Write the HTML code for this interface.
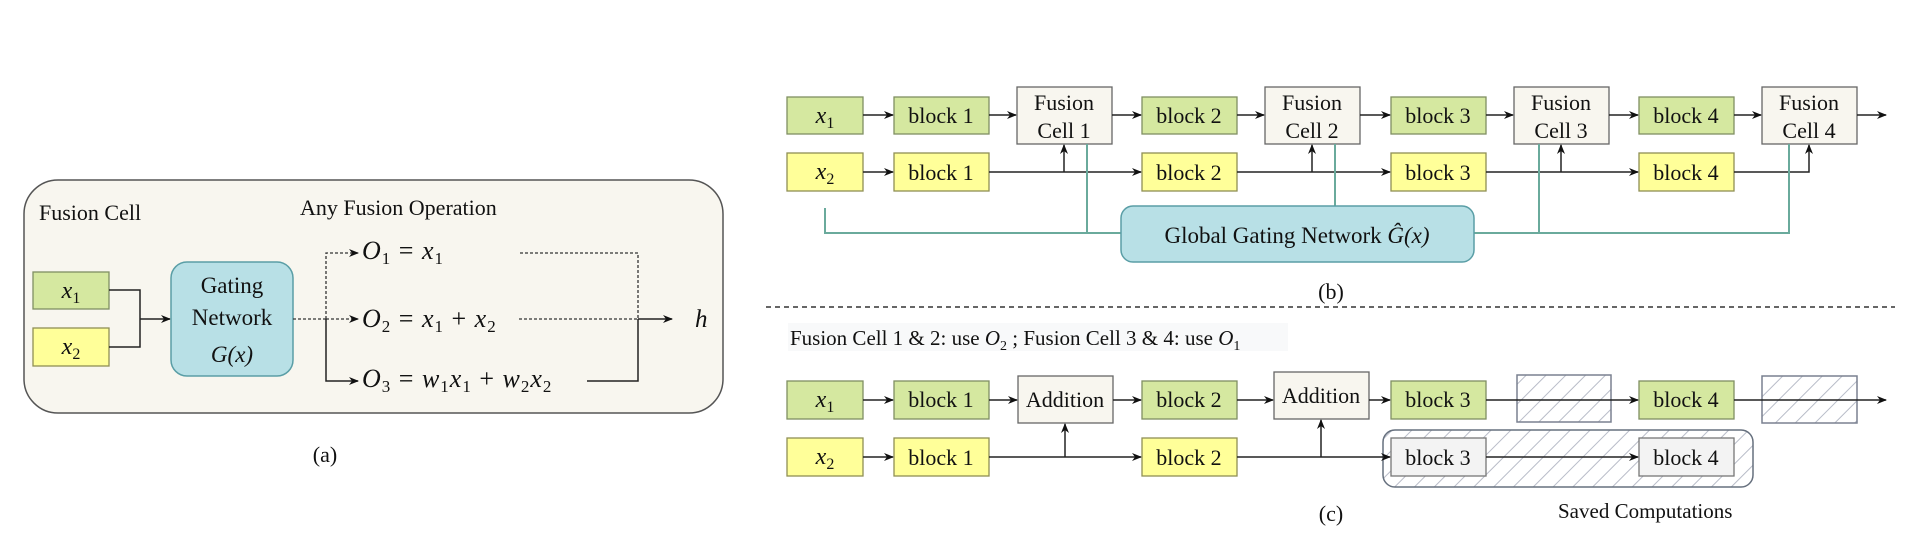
<!DOCTYPE html>
<html><head><meta charset="utf-8"><style>
html,body{margin:0;padding:0;background:#fff;}
svg{display:block;font-family:"Liberation Serif",serif;}
.g{fill:#d5e8a0;stroke:#7f8f62;stroke-width:1.3}
.y{fill:#ffff99;stroke:#8f8f55;stroke-width:1.3}
.f{fill:#f8f6ef;stroke:#666;stroke-width:1.3}
.gr{fill:#f3f3f3;stroke:#777;stroke-width:1.3}
.l{stroke:#222;stroke-width:1.5;fill:none}
.d{stroke:#333;stroke-width:1.3;fill:none;stroke-dasharray:3,2}
.t{stroke:#6aaa9c;stroke-width:2;fill:none}
text{fill:#111}
</style></head><body>
<svg width="1914" height="558" viewBox="0 0 1914 558" xmlns="http://www.w3.org/2000/svg">
<defs>
<marker id="a" markerWidth="10" markerHeight="10" refX="9" refY="5" orient="auto" markerUnits="userSpaceOnUse"><path d="M0,1 L10,5 L0,9 L3,5 z" fill="#111"/></marker>
<pattern id="h" width="14" height="14" patternUnits="userSpaceOnUse" patternTransform="rotate(45)"><rect width="14" height="14" fill="#fff"/><line x1="0" y1="0" x2="0" y2="14" stroke="#b8bcc8" stroke-width="2"/></pattern>
</defs>

<!-- Panel (a) -->
<rect x="24" y="180" width="699" height="233" rx="34" fill="#f8f6ef" stroke="#555" stroke-width="1.5"/>
<text x="39" y="220" font-size="22">Fusion Cell</text>
<text x="300" y="215" font-size="22">Any Fusion Operation</text>
<rect class="g" x="33" y="272" width="76" height="37"/>
<text x="71" y="298" font-size="24" font-style="italic" text-anchor="middle">x<tspan font-size="16" font-style="normal" dy="5">1</tspan></text>
<rect class="y" x="33" y="328" width="76" height="38"/>
<text x="71" y="354" font-size="24" font-style="italic" text-anchor="middle">x<tspan font-size="16" font-style="normal" dy="5">2</tspan></text>
<path class="l" d="M109,290 H140 V347 H109" stroke-width="1.3"/>
<path class="l" d="M140,319 H170" marker-end="url(#a)"/>
<rect x="171" y="262" width="122" height="114" rx="16" fill="#b8e0e6" stroke="#5a9ea6" stroke-width="1.5"/>
<text x="232" y="293" font-size="23" text-anchor="middle">Gating</text>
<text x="232" y="325" font-size="23" text-anchor="middle">Network</text>
<text x="232" y="362" font-size="23" text-anchor="middle" font-style="italic">G(x)</text>
<path class="d" d="M293,319 H326 M326,319 V253 H358" marker-end="url(#a)"/>
<path class="d" d="M326,319 H358" marker-end="url(#a)"/>
<path class="l" d="M326,319 V381 H358" marker-end="url(#a)" stroke-width="1.3"/>
<g font-size="26" letter-spacing="1">
<text x="362" y="259"><tspan font-style="italic">O</tspan><tspan font-size="17" dy="5">1</tspan><tspan dy="-5"> = </tspan><tspan font-style="italic">x</tspan><tspan font-size="17" dy="5">1</tspan></text>
<text x="362" y="327"><tspan font-style="italic">O</tspan><tspan font-size="17" dy="5">2</tspan><tspan dy="-5"> = </tspan><tspan font-style="italic">x</tspan><tspan font-size="17" dy="5">1</tspan><tspan dy="-5"> + </tspan><tspan font-style="italic">x</tspan><tspan font-size="17" dy="5">2</tspan></text>
<text x="362" y="387"><tspan font-style="italic">O</tspan><tspan font-size="17" dy="5">3</tspan><tspan dy="-5"> = </tspan><tspan font-style="italic">w</tspan><tspan font-size="17" dy="5">1</tspan><tspan dy="-5" font-style="italic">x</tspan><tspan font-size="17" dy="5">1</tspan><tspan dy="-5"> + </tspan><tspan font-style="italic">w</tspan><tspan font-size="17" dy="5">2</tspan><tspan dy="-5" font-style="italic">x</tspan><tspan font-size="17" dy="5">2</tspan></text>
</g>
<path class="d" d="M520,253 H638 V319 M519,319 H638"/>
<path class="l" d="M587,381 H638 V319" stroke-width="1.3"/>
<path class="l" d="M638,319 H672" marker-end="url(#a)"/>
<text x="695" y="327" font-size="25" font-style="italic">h</text>
<text x="325" y="462" font-size="22" text-anchor="middle">(a)</text>

<!-- Panel (b) -->
<rect class="g" x="787" y="97" width="76" height="37"/>
<text x="825" y="123" font-size="24" font-style="italic" text-anchor="middle">x<tspan font-size="16" font-style="normal" dy="5">1</tspan></text>
<rect class="y" x="787" y="153" width="76" height="38"/>
<text x="825" y="179" font-size="24" font-style="italic" text-anchor="middle">x<tspan font-size="16" font-style="normal" dy="5">2</tspan></text>

<g font-size="22" text-anchor="middle">
<rect class="g" x="894" y="97" width="95" height="37"/><text x="941" y="123">block 1</text>
<rect class="y" x="894" y="153" width="95" height="38"/><text x="941" y="180">block 1</text>
<rect class="g" x="1142" y="97" width="95" height="37"/><text x="1189" y="123">block 2</text>
<rect class="y" x="1142" y="153" width="95" height="38"/><text x="1189" y="180">block 2</text>
<rect class="g" x="1391" y="97" width="95" height="37"/><text x="1438" y="123">block 3</text>
<rect class="y" x="1391" y="153" width="95" height="38"/><text x="1438" y="180">block 3</text>
<rect class="g" x="1639" y="97" width="95" height="37"/><text x="1686" y="123">block 4</text>
<rect class="y" x="1639" y="153" width="95" height="38"/><text x="1686" y="180">block 4</text>
<rect class="f" x="1017" y="87" width="95" height="57"/><text x="1064" y="110">Fusion</text><text x="1064" y="138">Cell 1</text>
<rect class="f" x="1265" y="87" width="95" height="57"/><text x="1312" y="110">Fusion</text><text x="1312" y="138">Cell 2</text>
<rect class="f" x="1514" y="87" width="95" height="57"/><text x="1561" y="110">Fusion</text><text x="1561" y="138">Cell 3</text>
<rect class="f" x="1762" y="87" width="95" height="57"/><text x="1809" y="110">Fusion</text><text x="1809" y="138">Cell 4</text>
</g>
<g class="l" stroke-width="1.3">
<path d="M863,115 H893" marker-end="url(#a)"/>
<path d="M989,115 H1016" marker-end="url(#a)"/>
<path d="M1112,115 H1141" marker-end="url(#a)"/>
<path d="M1237,115 H1264" marker-end="url(#a)"/>
<path d="M1360,115 H1390" marker-end="url(#a)"/>
<path d="M1486,115 H1513" marker-end="url(#a)"/>
<path d="M1609,115 H1638" marker-end="url(#a)"/>
<path d="M1734,115 H1761" marker-end="url(#a)"/>
<path d="M1857,115 H1886" marker-end="url(#a)"/>
<path d="M863,172 H893" marker-end="url(#a)"/>
<path d="M989,172 H1141" marker-end="url(#a)"/>
<path d="M1064,172 V145" marker-end="url(#a)"/>
<path d="M1237,172 H1390" marker-end="url(#a)"/>
<path d="M1312,172 V145" marker-end="url(#a)"/>
<path d="M1486,172 H1638" marker-end="url(#a)"/>
<path d="M1561,172 V145" marker-end="url(#a)"/>
<path d="M1734,172 H1809 V145" marker-end="url(#a)"/>
</g>
<path class="t" d="M825,208 V233 H1121 M1087,144 V233 M1335,144 V206 M1474,233 H1789 V144 M1539,144 V233"/>
<rect x="1121" y="206" width="353" height="56" rx="12" fill="#b8e0e6" stroke="#5a9ea6" stroke-width="1.5"/>
<text x="1297" y="243" font-size="23" text-anchor="middle">Global Gating Network <tspan font-style="italic">Ĝ(x)</tspan></text>
<text x="1331" y="299" font-size="22" text-anchor="middle">(b)</text>
<line x1="766" y1="307" x2="1895" y2="307" stroke="#333" stroke-width="1.5" stroke-dasharray="5,4"/>

<!-- Panel (c) -->
<rect x="788" y="323" width="500" height="28" fill="#f8f9fa"/>
<text x="790" y="345" font-size="21">Fusion Cell 1 &amp; 2: use <tspan font-style="italic">O</tspan><tspan font-size="14" dy="5">2</tspan><tspan dy="-5"> ; Fusion Cell 3 &amp; 4: use </tspan><tspan font-style="italic">O</tspan><tspan font-size="14" dy="5">1</tspan></text>

<rect x="1383" y="430" width="370" height="57" rx="12" fill="url(#h)" stroke="#66707e" stroke-width="1.5"/>
<rect x="1517" y="375" width="94" height="47" fill="url(#h)" stroke="#7a8190" stroke-width="1.5"/>
<rect x="1762" y="376" width="95" height="47" fill="url(#h)" stroke="#7a8190" stroke-width="1.5"/>

<rect class="g" x="787" y="381" width="76" height="38"/>
<text x="825" y="407" font-size="24" font-style="italic" text-anchor="middle">x<tspan font-size="16" font-style="normal" dy="5">1</tspan></text>
<rect class="y" x="787" y="438" width="76" height="38"/>
<text x="825" y="464" font-size="24" font-style="italic" text-anchor="middle">x<tspan font-size="16" font-style="normal" dy="5">2</tspan></text>
<g font-size="22" text-anchor="middle">
<rect class="g" x="894" y="381" width="95" height="38"/><text x="941" y="407">block 1</text>
<rect class="y" x="894" y="438" width="95" height="38"/><text x="941" y="465">block 1</text>
<rect class="g" x="1142" y="381" width="95" height="38"/><text x="1189" y="407">block 2</text>
<rect class="y" x="1142" y="438" width="95" height="38"/><text x="1189" y="465">block 2</text>
<rect class="g" x="1391" y="381" width="95" height="38"/><text x="1438" y="407">block 3</text>
<rect class="gr" x="1391" y="438" width="95" height="38"/><text x="1438" y="465" fill="#333">block 3</text>
<rect class="g" x="1639" y="381" width="95" height="38"/><text x="1686" y="407">block 4</text>
<rect class="gr" x="1639" y="438" width="95" height="38"/><text x="1686" y="465" fill="#333">block 4</text>
<rect class="f" x="1018" y="376" width="95" height="47"/><text x="1065" y="407">Addition</text>
<rect class="f" x="1274" y="372" width="95" height="47"/><text x="1321" y="403">Addition</text>
</g>
<g class="l" stroke-width="1.3">
<path d="M863,400 H893" marker-end="url(#a)"/>
<path d="M989,400 H1017" marker-end="url(#a)"/>
<path d="M1113,400 H1141" marker-end="url(#a)"/>
<path d="M1237,400 H1273" marker-end="url(#a)"/>
<path d="M1369,400 H1390" marker-end="url(#a)"/>
<path d="M1486,400 H1638" marker-end="url(#a)"/>
<path d="M1734,400 H1886" marker-end="url(#a)"/>
<path d="M863,457 H893" marker-end="url(#a)"/>
<path d="M989,457 H1141" marker-end="url(#a)"/>
<path d="M1065,457 V424" marker-end="url(#a)"/>
<path d="M1237,457 H1390" marker-end="url(#a)"/>
<path d="M1321,457 V420" marker-end="url(#a)"/>
<path d="M1486,457 H1638" marker-end="url(#a)"/>
</g>
<text x="1331" y="521" font-size="22" text-anchor="middle">(c)</text>
<text x="1558" y="518" font-size="21">Saved Computations</text>
</svg>
</body></html>
